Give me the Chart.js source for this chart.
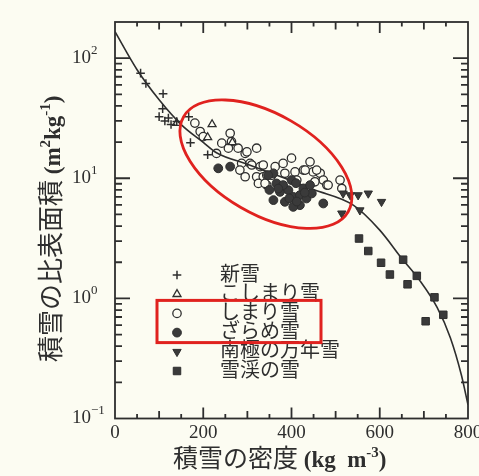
<!DOCTYPE html>
<html lang="ja">

<head>
    <meta charset="UTF-8">
    <title>積雪の密度と比表面積</title>
    <style>
        body { margin: 0; background: #fcfcf2; }
        canvas { display: block; }
    </style>
</head>

<body>
    <canvas id="ssaChart" width="479" height="476"></canvas>

    <script src="https://cdn.jsdelivr.net/npm/chart.js@4.4.1/dist/chart.umd.min.js"></script>
    <script>
        // 密度 (kg m-3) と比表面積 (m2 kg-1)
        const shinsetsuX = [58, 70, 109, 108, 100, 121, 127, 140, 167, 171, 210, 113];
        const shinsetsuY = [75, 61.5, 50.5, 38, 32.6, 31.7, 28, 29.7, 32.6, 19.8, 15.7, 30];

        const koshimariX = [140, 220, 210, 266];
        const koshimariY = [28.8, 28.1, 21.9, 19.9];

        const shimariX = [181, 193, 200, 230, 242, 261, 264, 257, 279, 295, 299, 321, 287, 306, 310, 283, 295,
            329, 321, 336, 325, 344, 336, 344, 340, 363, 381, 400, 385, 408, 412, 427, 442, 449, 465, 472,
            453, 480, 510, 514, 355, 431, 457, 483];
        const shimariY = [28.8, 24.5, 22.2, 16.1, 19.6, 23.7, 20.2, 17.8, 17.8, 16.1, 16.6, 17.8, 13.3, 13.3, 12.9,
            11.7, 10.3, 12.5, 10.3, 10.3, 9.06, 8.77, 12.9, 10.6, 9.06, 12.5, 13.3, 14.7, 11.0, 11.3, 9.66,
            11.7, 13.7, 11.3, 11.0, 9.66, 9.35, 8.77, 9.66, 8.23, 10.6, 11.7, 11.7, 8.77];

        const zarameX = [234, 261, 359, 366, 374, 393, 400, 404, 419, 427, 434, 419, 446, 472, 359, 385, 404,
            347, 381, 410, 442, 370, 395, 430, 412, 350];
        const zarameY = [12.1, 12.5, 11.0, 9.06, 7.71, 7.96, 9.66, 7.0, 7.24, 8.23, 6.79, 5.97, 7.48, 6.17, 6.58,
            6.37, 5.78, 10.6, 8.77, 9.1, 8.77, 8.2, 6.8, 7.6, 6.4, 8.0];

        const nankyokuX = [517, 533, 551, 574, 604, 555, 514];
        const nankyokuY = [7.48, 7.24, 7.24, 7.48, 6.37, 5.42, 5.1];

        const sekkeiX = [553, 574, 603, 623, 653, 684, 663, 724, 744, 704];
        const sekkeiY = [3.15, 2.48, 1.98, 1.58, 2.10, 1.54, 1.31, 1.02, 0.73, 0.645];

        // 実線の曲線
        const curveX = [0, 50, 100, 150, 200, 230, 300, 385, 450, 540, 600, 650, 690, 730, 760, 785, 800];
        const curveY = [166, 80, 45, 28, 19.9, 16.3, 13.1, 10, 8.05, 5.97, 3.7, 2.15, 1.42, 0.84, 0.47, 0.23, 0.13];

        // 目盛り
        const xTickLabels = [0, 200, 400, 600, 800];
        const yTickExponents = [-1, 0, 1, 2];

        const ink = '#2e2e2e';
        const paper = '#fcfcf2';
        const red = '#e0221f';
        const serif = '"Liberation Serif", "DejaVu Serif", serif';
        const jp = '"Noto Sans CJK JP", sans-serif';

        function pts(xs, ys) {
            return xs.map((x, i) => ({ x: x, y: ys[i] }));
        }

        const datasets = [
            {
                label: '新雪', data: pts(shinsetsuX, shinsetsuY),
                pointStyle: 'cross', pointRadius: 4.3, borderWidth: 1.5,
                borderColor: ink, backgroundColor: ink, order: 3
            },
            {
                label: 'こしまり雪', data: pts(koshimariX, koshimariY),
                pointStyle: 'triangle', pointRadius: 4.6, borderWidth: 1.3,
                borderColor: ink, backgroundColor: paper, order: 5
            },
            {
                label: 'しまり雪', data: pts(shimariX, shimariY),
                pointStyle: 'circle', pointRadius: 4.2, borderWidth: 1.3,
                borderColor: ink, backgroundColor: paper, order: 6
            },
            {
                label: 'ざらめ雪', data: pts(zarameX, zarameY),
                pointStyle: 'circle', pointRadius: 4.4, borderWidth: 1,
                borderColor: ink, backgroundColor: '#3a3a3a', order: 2
            },
            {
                label: '南極の万年雪', data: pts(nankyokuX, nankyokuY),
                pointStyle: 'triangle', pointRotation: 180, pointRadius: 4.8, borderWidth: 1,
                borderColor: ink, backgroundColor: '#3a3a3a', order: 1
            },
            {
                label: '雪渓の雪', data: pts(sekkeiX, sekkeiY),
                pointStyle: 'rect', pointRadius: 5.3, borderWidth: 1,
                borderColor: ink, backgroundColor: '#3a3a3a', order: 1
            },
            {
                type: 'line', label: 'curve', data: pts(curveX, curveY),
                borderColor: ink, borderWidth: 1.6, pointRadius: 0,
                cubicInterpolationMode: 'monotone', fill: false, order: 4
            }
        ];

        // 凡例・強調用の赤い楕円と四角
        const ellipseCenter = { x: 342, y: 13.1 };
        const ellipseRadii = [95, 50];
        const ellipseAngle = 30;

        function drawMarker(ctx, ds, x, y) {
            const r = ds.pointRadius;
            ctx.save();
            ctx.lineWidth = ds.borderWidth;
            ctx.strokeStyle = ds.borderColor;
            ctx.fillStyle = ds.backgroundColor;
            ctx.beginPath();
            if (ds.pointStyle === 'circle') {
                ctx.arc(x, y, r, 0, Math.PI * 2);
                ctx.fill();
                ctx.stroke();
            } else if (ds.pointStyle === 'rect') {
                const s = r * Math.SQRT1_2;
                ctx.rect(x - s, y - s, s * 2, s * 2);
                ctx.fill();
                ctx.stroke();
            } else if (ds.pointStyle === 'triangle') {
                let rad = (ds.pointRotation || 0) * Math.PI / 180;
                ctx.moveTo(x + Math.sin(rad) * r, y - Math.cos(rad) * r);
                rad += Math.PI * 2 / 3;
                ctx.lineTo(x + Math.sin(rad) * r, y - Math.cos(rad) * r);
                rad += Math.PI * 2 / 3;
                ctx.lineTo(x + Math.sin(rad) * r, y - Math.cos(rad) * r);
                ctx.closePath();
                ctx.fill();
                ctx.stroke();
            } else {
                ctx.moveTo(x - r, y);
                ctx.lineTo(x + r, y);
                ctx.moveTo(x, y - r);
                ctx.lineTo(x, y + r);
                ctx.stroke();
            }
            ctx.restore();
        }

        // 上付き文字を含む文字列を左から順に描く
        function drawRuns(ctx, runs, x, y) {
            let cx = x;
            runs.forEach(run => {
                ctx.font = run.font;
                ctx.fillText(run.text, cx, y + (run.dy || 0));
                cx += ctx.measureText(run.text).width;
            });
            return cx - x;
        }

        const paperPlugin = {
            id: 'paper',
            beforeDraw(chart) {
                const ctx = chart.ctx;
                ctx.save();
                ctx.fillStyle = paper;
                ctx.fillRect(0, 0, chart.width, chart.height);
                ctx.restore();
            }
        };

        const framePlugin = {
            id: 'frame',
            afterDatasetsDraw(chart) {
                const ctx = chart.ctx;
                const area = chart.chartArea;
                const xs = chart.scales.x;
                const ys = chart.scales.y;
                ctx.save();
                ctx.strokeStyle = ink;
                ctx.fillStyle = ink;
                ctx.lineWidth = 1.8;
                ctx.strokeRect(area.left, area.top, area.right - area.left, area.bottom - area.top);

                // x の内向き目盛り (50 ごと)
                ctx.beginPath();
                for (let v = 50; v < 800; v += 50) {
                    const px = xs.getPixelForValue(v);
                    const len = v % 200 === 0 ? 11 : (v % 100 === 0 ? 7.5 : 4.5);
                    ctx.moveTo(px, area.bottom);
                    ctx.lineTo(px, area.bottom - len);
                    ctx.moveTo(px, area.top);
                    ctx.lineTo(px, area.top + len);
                }
                // y の内向き目盛り (対数)
                yTickExponents.forEach(e => {
                    for (let k = 1; k <= 9; k++) {
                        const v = k * Math.pow(10, e);
                        if (v <= ys.min || v >= ys.max) continue;
                        const py = ys.getPixelForValue(v);
                        const len = k === 1 ? 15 : 7;
                        ctx.moveTo(area.left, py);
                        ctx.lineTo(area.left + len, py);
                        ctx.moveTo(area.right, py);
                        ctx.lineTo(area.right - len, py);
                    }
                });
                ctx.stroke();

                // 目盛りラベル
                ctx.textBaseline = 'middle';
                ctx.textAlign = 'center';
                ctx.font = '19px ' + serif;
                xTickLabels.forEach(v => {
                    ctx.fillText(String(v), xs.getPixelForValue(v), area.bottom + 15);
                });
                ctx.textAlign = 'left';
                yTickExponents.forEach(e => {
                    const py = ys.getPixelForValue(Math.pow(10, e));
                    drawRuns(ctx, [
                        { text: '10', font: '19px ' + serif },
                        { text: e < 0 ? '−' + Math.abs(e) : String(e), font: '13px ' + serif, dy: -8 }
                    ], 72, py);
                });

                // 軸タイトル
                ctx.textBaseline = 'alphabetic';
                drawRuns(ctx, [
                    { text: '積雪の密度', font: '25px ' + jp },
                    { text: ' (kg  m', font: 'bold 23px ' + serif },
                    { text: '-3', font: 'bold 15px ' + serif, dy: -10 },
                    { text: ')', font: 'bold 23px ' + serif }
                ], 173, 467);

                ctx.save();
                ctx.translate(60, 362);
                ctx.rotate(-Math.PI / 2);
                drawRuns(ctx, [
                    { text: '積雪の比表面積', font: '26px ' + jp },
                    { text: ' (m', font: 'bold 23px ' + serif },
                    { text: '2', font: 'bold 15px ' + serif, dy: -10 },
                    { text: 'kg', font: 'bold 23px ' + serif },
                    { text: '-1', font: 'bold 15px ' + serif, dy: -10 },
                    { text: ')', font: 'bold 23px ' + serif }
                ], 0, 0);
                ctx.restore();

                // 凡例
                const lx = area.left + 62;
                const ly0 = area.top + 253;
                const step = 19.2;
                const series = chart.data.datasets.filter(ds => ds.type !== 'line');
                ctx.textBaseline = 'middle';
                ctx.font = '20px ' + jp;
                series.forEach((ds, i) => {
                    const ly = ly0 + i * step;
                    drawMarker(ctx, ds, lx, ly);
                    ctx.fillStyle = ink;
                    ctx.fillText(ds.label, lx + 43, ly - 2);
                });

                // 赤い強調
                ctx.strokeStyle = red;
                ctx.lineWidth = 3;
                ctx.strokeRect(lx - 20, ly0 + 2 * step - 13, 164, ly0 + 3 * step + 10 - (ly0 + 2 * step - 13));

                ctx.lineWidth = 2.8;
                ctx.beginPath();
                ctx.ellipse(xs.getPixelForValue(ellipseCenter.x), ys.getPixelForValue(ellipseCenter.y),
                    ellipseRadii[0], ellipseRadii[1], ellipseAngle * Math.PI / 180, 0, Math.PI * 2);
                ctx.stroke();
                ctx.restore();
            }
        };

        const chart = new Chart(document.getElementById('ssaChart'), {
            type: 'scatter',
            data: { datasets: datasets },
            options: {
                responsive: false,
                devicePixelRatio: 1,
                animation: false,
                layout: { padding: { left: 115, right: 11, top: 22, bottom: 57.5 } },
                plugins: { legend: { display: false }, tooltip: { enabled: false } },
                scales: {
                    x: { type: 'linear', min: 0, max: 800, display: false },
                    y: { type: 'logarithmic', min: 0.1, max: 200, display: false }
                }
            },
            plugins: [paperPlugin, framePlugin]
        });
    </script>

</body>

</html>
